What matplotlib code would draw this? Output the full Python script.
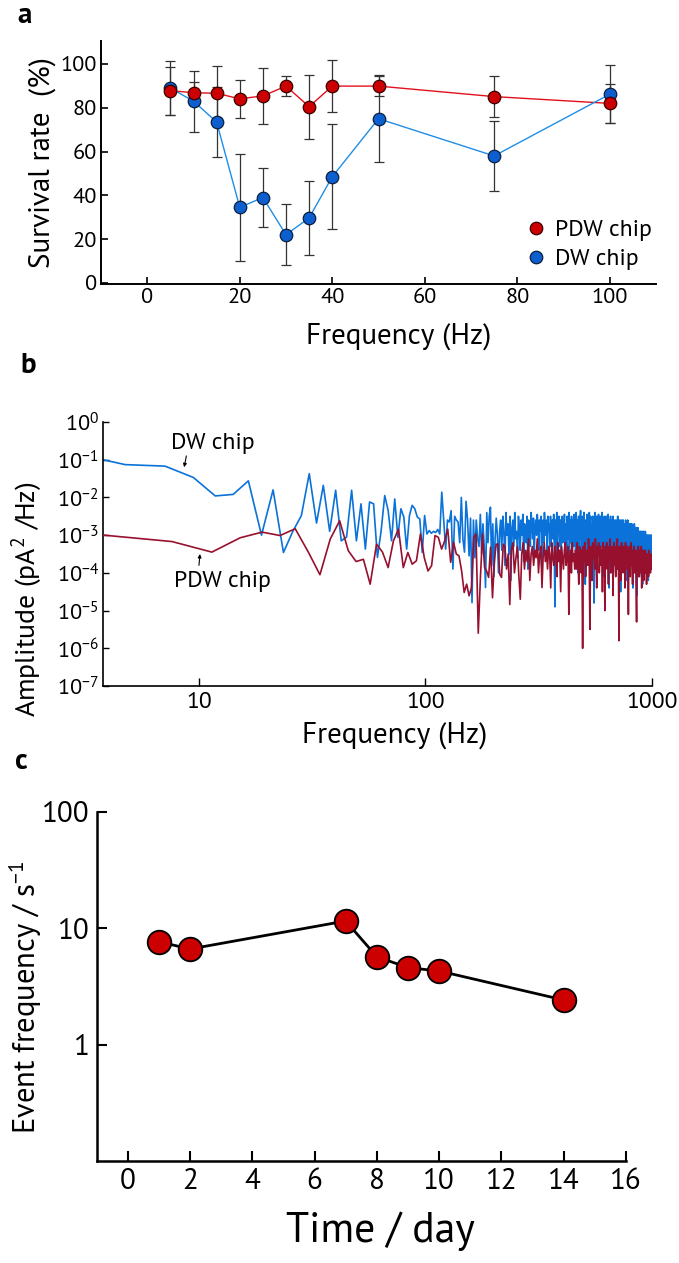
import numpy as np
import matplotlib
matplotlib.use("Agg")
import matplotlib.pyplot as plt
from matplotlib import font_manager as fm
from matplotlib.ticker import FixedLocator, NullLocator

_avail = set(f.name for f in fm.fontManager.ttflist)
_cands = ['PT Sans', 'Fira Sans', 'Liberation Sans']
MAIN_FONT = next((c for c in _cands if c in _avail), 'DejaVu Sans')
plt.rcParams['font.family'] = [MAIN_FONT, 'DejaVu Sans']
plt.rcParams['mathtext.fontset'] = 'custom'
plt.rcParams['mathtext.rm'] = MAIN_FONT
plt.rcParams['mathtext.it'] = MAIN_FONT
plt.rcParams['mathtext.bf'] = MAIN_FONT

# ---------------- Panel a data ----------------
freq_a = [5, 10, 15, 20, 25, 30, 35, 40, 50, 75, 100]
pdw_surv = [87.8, 86.9, 86.6, 84.1, 85.4, 89.9, 80.5, 89.9, 89.9, 85.1, 82.0]
pdw_err = [11.0, 5.0, 12.4, 8.6, 12.8, 4.4, 14.6, 11.8, 4.5, 9.3, 9.0]
dw_surv = [89.0, 83.0, 73.5, 34.5, 39.0, 22.0, 29.7, 48.5, 75.0, 58.0, 86.2]
dw_err = [12.5, 14.0, 16.0, 24.4, 13.5, 14.0, 17.0, 24.0, 19.8, 16.0, 13.2]
x_ticks_a = [0, 20, 40, 60, 80, 100]
y_ticks_a = [0, 20, 40, 60, 80, 100]

# ---------------- Panel b data (log10 amplitude on uniform FFT grids) ----------------
dw_df = 2.36   # Hz per bin (DW chip spectrum)
pdw_df = 3.8   # Hz per bin (PDW chip spectrum)
dw_log_amp = [
    -0.73, -1.13, -1.17, -1.47, -1.96, -1.92, -1.56, -3.0, -1.80, -3.46,
    -2.9, -2.48, -1.37, -2.68, -1.68, -2.90, -1.81, -3.15, -3.05, -1.81,
    -3.15, -2.17, -3.37, -2.12, -2.17, -3.59, -2.88, -1.95, -2.35, -3.15,
    -2.04, -3.06, -2.30, -2.52, -3.37, -2.48, -2.21, -2.30, -2.52, -2.57,
    -3.46, -2.48, -2.97, -2.88, -2.95, -2.9, -2.93, -2.85, -2.97, -1.86,
    -2.6, -3.37, -2.6, -2.65, -2.35, -3.9, -2.5, -2.6, -2.65, -3.2,
    -2.0, -3.1, -3.45, -2.1, -2.6, -3.55, -2.55, -4.79, -2.6, -3.6,
    -2.6, -3.1, -3.3, -2.45, -3.5, -2.7, -3.3, -4.39, -2.4, -3.2,
    -2.5, -2.26, -3.8, -2.7, -4.1, -3.1, -2.55, -3.0, -4.0, -2.9,
    -2.6, -3.4, -2.5, -2.9, -3.8, -2.4, -3.0, -2.7, -3.5, -2.5,
    -4.2, -2.8, -2.6, -3.3, -2.4, -3.1, -2.9, -3.6, -2.5, -2.8,
    -3.4, -2.6, -3.0, -2.45, -3.7, -2.7, -2.9, -3.2, -2.5, -3.9,
    -2.6, -2.8, -3.3, -2.4, -2.7, -3.1, -2.55, -3.5, -2.8, -2.6,
    -3.0, -2.45, -2.7, -3.4, -2.6, -2.9, -2.5, -3.8, -2.7, -2.6,
    -3.2, -2.4, -2.8, -3.0, -2.6, -3.6, -2.5, -2.9, -2.7, -3.3,
    -2.5, -3.2, -2.7, -2.6, -3.1, -2.45, -3.5, -4.9, -2.6, -3.0,
    -2.4, -3.7, -2.7, -2.9, -2.5, -3.3, -2.6, -3.9, -2.8, -2.5,
    -3.2, -2.6, -3.0, -2.45, -3.6, -2.7, -2.9, -3.4, -2.5, -2.8,
    -3.1, -2.4, -3.8, -2.6, -2.9, -3.2, -2.5, -3.5, -2.7, -2.6,
    -3.3, -2.45, -3.0,
    -2.5, -3.6, -2.4, -2.8, -3.2, -2.6, -4.0, -2.5, -2.9, -3.4,
    -2.6, -2.35, -3.1, -2.7, -3.7, -2.5, -2.8, -3.3, -2.4, -3.0,
    -2.7, -4.3, -2.6, -2.9, -3.2, -2.45, -3.5, -2.7, -2.6, -3.1,
    -2.4, -3.8, -2.8, -2.5, -3.3, -2.7, -2.9, -3.6, -2.5, -3.0,
    -2.6, -4.8, -2.7, -2.4, -3.2, -2.8, -3.5, -2.5, -2.9, -3.9,
    -2.6, -3.0, -2.45, -3.4, -2.7, -2.8, -3.7, -2.5, -3.1, -2.6,
    -3.3, -2.4, -2.9, -4.1, -2.6, -2.8, -3.2, -2.5, -3.6, -2.7,
    -2.9, -3.0, -2.5, -3.8, -2.6, -2.7, -3.3, -2.45, -3.1, -2.8,
    -4.4, -2.6, -2.9, -3.2, -2.5, -3.5, -2.7, -2.8, -3.9, -2.6,
    -3.0, -2.5, -3.4, -2.7, -2.9, -3.6, -2.6, -3.1, -2.8, -4.0,
    -2.6, -3.2, -2.7, -2.9, -3.5, -2.5, -3.0, -2.8, -3.8, -2.6,
    -3.1, -2.7, -3.4, -2.6, -4.5, -2.8, -2.9, -3.3, -2.6, -3.0,
    -2.7, -3.7, -2.6, -3.2, -2.8, -3.0, -3.9, -2.7, -2.9, -3.4,
    -2.6, -3.1, -2.8, -4.2, -2.7, -3.0, -3.3, -2.6, -3.6, -2.8,
    -2.9, -3.2, -2.7, -4.0, -2.8, -3.0, -3.5, -2.7, -3.1, -2.9,
    -3.8, -2.7, -3.3, -2.8, -3.0, -4.4, -2.8, -3.2, -2.9, -3.6,
    -2.7, -3.1, -3.0, -3.9, -2.8, -3.3, -2.9, -3.5, -2.8, -4.6,
    -3.0, -2.9, -3.4, -2.8, -3.2, -3.7, -2.9, -3.1, -3.0, -4.1,
    -2.9, -3.3, -3.0, -3.6, -2.9, -3.2, -3.8, -3.0, -3.1, -3.4,
    -2.9, -4.3, -3.1, -3.0, -3.5, -2.9, -3.3, -3.2, -3.9, -3.0,
    -3.1, -3.6, -2.9, -3.4, -4.0, -3.1, -3.0, -3.5, -3.2, -3.8,
    -3.0, -3.3, -3.7, -3.1, -4.2, -3.0, -3.4, -3.2, -3.6, -3.0,
    -3.5, -3.1, -3.9, -3.2, -3.0, -3.6, -3.3, -3.8, -3.1, -3.4, -3.0,
]
pdw_log_amp = [
    -3.00, -3.17, -3.45, -3.07, -2.92, -3.01, -2.83, -3.45, -4.05, -3.10,
    -2.62, -3.41, -3.70, -3.64, -4.30, -3.24, -3.45, -3.86, -3.15, -2.84,
    -3.86, -3.46, -3.77, -3.68, -2.97, -3.6, -3.95, -3.81, -3.01, -3.06,
    -3.37, -3.15, -2.84, -3.72, -3.19, -3.50, -3.55, -3.95, -4.52, -4.30,
    -4.61, -4.39, -3.06, -2.97, -5.6, -4.12, -2.97, -3.86, -3.95, -4.12,
    -3.32, -4.66, -3.68, -3.24, -3.24, -4.04, -4.12, -3.24,
    -3.3, -3.9, -3.5, -4.84, -3.4, -3.2, -4.0, -3.6, -3.3, -4.1,
    -4.7, -3.5, -3.2, -3.9, -3.4, -3.7, -3.1, -4.2, -3.5, -3.3,
    -3.8, -3.4, -3.6, -3.1, -4.0, -3.5, -3.3, -4.39, -3.6, -3.2,
    -3.7, -3.4, -3.9, -3.3, -3.5, -4.4, -3.2, -3.6, -3.8, -3.3,
    -3.5, -4.1, -3.2, -3.7, -3.4, -4.5, -3.3, -3.6, -3.9, -3.4,
    -3.2, -3.8, -3.5, -3.3, -5.1, -3.6, -3.4, -4.0, -3.2, -3.7, -3.5, -3.9,
    -3.4, -3.9, -3.2, -3.6, -4.3, -3.3, -3.5, -4.0, -3.4, -6.0,
    -3.3, -3.7, -3.2, -4.1, -3.5, -3.4, -3.8, -3.1, -3.6, -5.5,
    -3.3, -3.5, -4.2, -3.2, -3.6, -3.4, -3.9, -3.1, -3.7, -4.4,
    -3.3, -3.5, -3.2, -4.0, -3.6, -3.3, -3.8, -3.4, -4.5, -3.2,
    -3.6, -3.4, -5.0, -3.3, -3.7, -3.2, -3.9, -3.5, -4.3, -3.3,
    -3.6, -3.1, -4.0, -3.4, -3.7, -3.3, -4.6, -3.5, -3.2, -3.8,
    -3.4, -4.1, -3.3, -3.6, -3.1, -3.9, -3.5, -5.8, -3.3, -3.7,
    -3.4, -4.2, -3.2, -3.6, -3.5, -4.0, -3.3, -3.8, -3.4, -4.4,
    -3.2, -3.7, -3.5, -3.9, -3.3, -3.6, -5.1, -3.4, -3.7, -3.3,
    -4.1, -3.5, -3.2, -3.8, -3.6, -4.3, -3.4, -3.7, -3.3, -4.0,
    -3.5, -3.8, -3.4, -4.5, -5.3, -3.5, -3.6, -3.9, -3.3, -4.1,
    -3.6, -3.4, -4.0, -3.5, -3.8, -3.3, -4.4, -3.6, -3.5, -3.9,
    -3.4, -4.2, -3.6, -3.5, -4.0, -3.4, -3.8, -3.7, -4.3, -3.5,
    -3.6, -3.9, -3.5, -4.1, -3.7, -3.4, -3.9, -3.6, -4.0, -3.5, -3.8, -3.7, -3.9,
]
x_ticks_b = [10, 100, 1000]
y_exp_b = [0, -1, -2, -3, -4, -5, -6, -7]

# ---------------- Panel c data ----------------
days_c = [1, 2, 7, 8, 9, 10, 14]
event_freq = [7.68, 6.64, 11.56, 5.7, 4.59, 4.3, 2.42]
x_ticks_c = [0, 2, 4, 6, 8, 10, 12, 14, 16]
y_ticks_c = [1, 10, 100]

W, H = 679, 1263
fig = plt.figure(figsize=(W / 100, H / 100), dpi=100)


def rect(l, t, r, b):
    return [l / W, 1 - b / H, (r - l) / W, (b - t) / H]


# ======================= Panel a =======================
ax = fig.add_axes(rect(101, 41, 656, 284))
ax.errorbar(freq_a, pdw_surv, yerr=pdw_err, fmt='none', ecolor='#333333',
            elinewidth=0.9, capsize=3.5, capthick=0.9, zorder=1)
ax.errorbar(freq_a, dw_surv, yerr=dw_err, fmt='none', ecolor='#333333',
            elinewidth=0.9, capsize=3.5, capthick=0.9, zorder=1)
ax.plot(freq_a, pdw_surv, '-', color='#e3101c', lw=1.0, zorder=2)
ax.plot(freq_a, dw_surv, '-', color='#1f8ee6', lw=1.0, zorder=2)
ax.plot(freq_a, dw_surv, 'o', ms=9, mfc='#0d5fd0', mec='#0b1f40', mew=0.9,
        zorder=3, label='DW chip')
ax.plot(freq_a, pdw_surv, 'o', ms=9, mfc='#cc0000', mec='#3a0000', mew=0.9,
        zorder=4, label='PDW chip')
ax.set_xlim(-10, 110)
ax.set_ylim(-0.5, 110.5)
ax.set_xticks(x_ticks_a)
ax.set_yticks(y_ticks_a)
for s in ['top', 'right']:
    ax.spines[s].set_visible(False)
for s in ['left', 'bottom']:
    ax.spines[s].set_linewidth(1.4)
ax.tick_params(axis='both', direction='in', length=5, width=1.2,
               labelsize=16, pad=3)
ax.set_xlabel('Frequency (Hz)', fontsize=21, labelpad=4)
ax.xaxis.set_label_coords(0.536, -0.16)
ax.set_ylabel('Survival rate  (%)', fontsize=21, labelpad=3)
h, l = ax.get_legend_handles_labels()
ax.legend([h[1], h[0]], [l[1], l[0]], loc='lower right', frameon=False,
          fontsize=17, handlelength=0.8, handletextpad=0.4,
          bbox_to_anchor=(1.03, -0.03), labelspacing=0.3)
fig.text(17 / W, 1 - 16 / H, 'a', fontsize=21, fontweight='bold',
         va='center', ha='left')

# ======================= Panel b =======================
axb = fig.add_axes(rect(103, 422, 652, 686))
f_dw = dw_df * np.arange(1, len(dw_log_amp) + 1)
f_pdw = pdw_df * np.arange(1, len(pdw_log_amp) + 1)
axb.plot(f_dw, 10 ** np.array(dw_log_amp), color='#0a72d8', lw=1.2, zorder=2)
axb.plot(f_pdw, 10 ** np.array(pdw_log_amp), color='#97102e', lw=1.2, zorder=3)
axb.set_xscale('log')
axb.set_yscale('log')
axb.set_xlim(3.77, 1000)
axb.set_ylim(1e-7, 1)
axb.xaxis.set_major_locator(FixedLocator(x_ticks_b))
axb.xaxis.set_minor_locator(NullLocator())
axb.set_xticklabels([str(v) for v in x_ticks_b])
axb.yaxis.set_major_locator(FixedLocator([10.0 ** e for e in y_exp_b]))
axb.yaxis.set_minor_locator(NullLocator())
axb.set_yticklabels([r'$\mathregular{10^{%d}}$' % e for e in y_exp_b])
for s in ['top', 'right']:
    axb.spines[s].set_visible(False)
for s in ['left', 'bottom']:
    axb.spines[s].set_linewidth(1.2)
axb.tick_params(axis='y', direction='in', length=4, width=1.0, labelsize=16, pad=3)
axb.tick_params(axis='x', direction='in', length=6, width=1.0, labelsize=17, pad=4)
axb.set_xlabel('Frequency (Hz)', fontsize=21)
axb.xaxis.set_label_coords(0.531, -0.135)
axb.set_ylabel(r'Amplitude (pA$^{\mathregular{2}}$ /Hz)', fontsize=20)
axb.yaxis.set_label_coords(-0.108, 0.33)
# annotation labels with short arrows
axb.text(11.5, 10 ** -0.56, 'DW chip', ha='center', va='center', fontsize=17)
axb.annotate('', xy=(8.6, 10 ** -1.2), xytext=(8.8, 10 ** -0.9),
             arrowprops=dict(arrowstyle='-|>', lw=0.8, color='black',
                             mutation_scale=5, shrinkA=0, shrinkB=0))
axb.text(12.7, 10 ** -4.24, 'PDW chip', ha='center', va='center', fontsize=17)
axb.annotate('', xy=(10.1, 10 ** -3.5), xytext=(10.0, 10 ** -3.8),
             arrowprops=dict(arrowstyle='-|>', lw=0.8, color='black',
                             mutation_scale=5, shrinkA=0, shrinkB=0))
fig.text(20 / W, 1 - 366 / H, 'b', fontsize=21, fontweight='bold',
         va='center', ha='left')

# ======================= Panel c =======================
axc = fig.add_axes(rect(96.5, 812, 626, 1161))
axc.plot(days_c, event_freq, '-', color='black', lw=2.0, zorder=2)
axc.plot(days_c, event_freq, 'o', ms=17, mfc='#cc0000', mec='black', mew=1.3,
         zorder=3)
axc.set_yscale('log')
axc.set_xlim(-1, 16)
axc.set_ylim(0.1, 100)
axc.set_xticks(x_ticks_c)
axc.yaxis.set_major_locator(FixedLocator(y_ticks_c))
axc.yaxis.set_minor_locator(NullLocator())
axc.set_yticklabels([str(v) for v in y_ticks_c])
for s in ['top', 'right']:
    axc.spines[s].set_visible(False)
for s in ['left', 'bottom']:
    axc.spines[s].set_linewidth(1.8)
axc.tick_params(axis='both', direction='in', length=7, width=1.5,
                labelsize=21, pad=5)
axc.set_xlabel('Time / day', fontsize=30)
axc.xaxis.set_label_coords(0.537, -0.145)
axc.set_ylabel('Event frequency / s$^{\\mathregular{-1}}$', fontsize=22)
axc.yaxis.set_label_coords(-0.10, 0.47)
fig.text(15 / W, 1 - 762 / H, 'c', fontsize=21, fontweight='bold',
         va='center', ha='left')

fig.savefig('out.png', dpi=100)
